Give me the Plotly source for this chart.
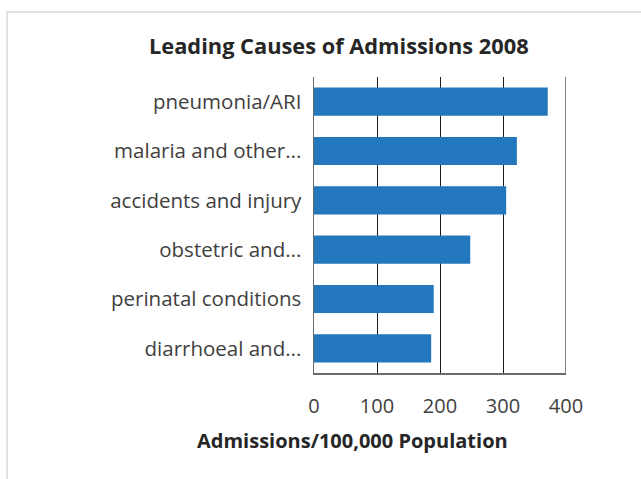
import plotly.graph_objects as go

categories = ["pneumonia/ARI", "malaria and other...", "accidents and injury",
              "obstetric and...", "perinatal conditions", "diarrhoeal and..."]
values = [371, 322, 305, 248, 190, 186]
x_ticks = [0, 100, 200, 300, 400]
title_text = "Leading Causes of Admissions 2008"
x_title = "Admissions/100,000 Population"

FONT = "Open Sans"
L, R, T, B = 314, 75, 77, 106
W, H = 641, 479
pw, ph = W - L - R, H - T - B

fig = go.Figure(go.Bar(
    x=values, y=categories, orientation="h",
    marker=dict(color="#2277bd", line=dict(width=0)),
    width=0.57, hoverinfo="skip",
))

fig.update_layout(
    width=W, height=H,
    margin=dict(l=L, r=R, t=T, b=B, pad=0),
    paper_bgcolor="white", plot_bgcolor="white",
    showlegend=False,
    font=dict(family=FONT, color="#404040", size=20),
    xaxis=dict(range=[0, 400], tickvals=x_ticks, showgrid=True,
               gridcolor="#1a1a1a", gridwidth=1, zeroline=False,
               showline=True, linecolor="#6b6b6b", linewidth=1.5, mirror=False,
               ticks="", ticklabelstandoff=14, tickfont=dict(size=20)),
    yaxis=dict(autorange="reversed", showgrid=False, zeroline=False,
               showline=True, linecolor="#6b6b6b", linewidth=1.5,
               ticks="", ticklabelstandoff=7, tickfont=dict(size=20.5)),
    shapes=[
        dict(type="line", xref="x", yref="paper", x0=400, x1=400, y0=0, y1=1,
             line=dict(color="#555555", width=1.5)),
        dict(type="rect", xref="paper", yref="paper",
             x0=(7 - L) / pw, x1=(W + 2 - L) / pw,
             y0=(H - B - (H + 2)) / ph, y1=(H - B - 12) / ph,
             line=dict(color="#d9d9d9", width=1.5), fillcolor="rgba(0,0,0,0)", layer="below"),
    ],
    annotations=[
        dict(text="<b>" + title_text + "</b>", xref="paper", yref="paper",
             x=(339 - L) / pw, y=(H - B - 46) / ph, xanchor="center", yanchor="middle",
             showarrow=False, font=dict(size=21.8, color="#262626", family=FONT)),
        dict(text="<b>" + x_title + "</b>", xref="paper", yref="paper",
             x=(352 - L) / pw, y=(H - B - 440) / ph, xanchor="center", yanchor="middle",
             showarrow=False, font=dict(size=20, color="#262626", family=FONT)),
    ],
)

fig.write_html("out.html", config={"displayModeBar": False, "staticPlot": True},
               post_script="document.body.style.margin='0';document.body.style.overflow='hidden';")
